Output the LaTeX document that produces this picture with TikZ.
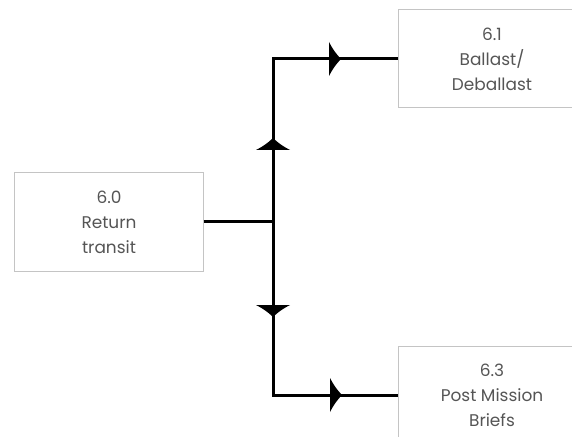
\documentclass[tikz,border=0pt]{standalone}
\usepackage{fontspec}
\setmainfont{Poppins}
\usetikzlibrary{decorations.markings}
\definecolor{boxline}{HTML}{C4C4C4}
\definecolor{boxtext}{HTML}{555555}
\newcommand{\flowtip}{\fill (0,0) .. controls (-5,5) and (-9,11) .. (-12,17) -- (-12,-17) .. controls (-9,-11) and (-5,-5) .. (0,0) -- cycle;}
\begin{document}
\begin{tikzpicture}[x=1bp, y=-1bp,
    box/.style={draw=boxline, line width=1bp, minimum width=188bp, minimum height=98bp, align=center, text=boxtext, font=\fontsize{17}{25}\selectfont},
    flow/.style={line width=3bp, line join=miter}]
    \useasboundingbox (0,0) rectangle (572,437);
    \clip (0,0) rectangle (572,437);

    \node [box] (ret) at (109,222) {6.0\\Return\\transit};
    \node [box] (bal) at (492,59) {6.1\\Ballast/\\Deballast};
    \node [box] (post) at (492,395) {6.3\\Post Mission\\Briefs};
    \coordinate (fork) at (273,222);

    \draw [flow] (ret) -- (fork);
    \draw [flow, postaction={decorate}, decoration={markings, mark=at position 84bp with {\flowtip}, mark=at position 231bp with {\flowtip}}] (fork) |- (bal.west);
    \draw [flow, postaction={decorate}, decoration={markings, mark=at position 95bp with {\flowtip}, mark=at position 242bp with {\flowtip}}] (fork) |- (post.west);
\end{tikzpicture}
\end{document}
